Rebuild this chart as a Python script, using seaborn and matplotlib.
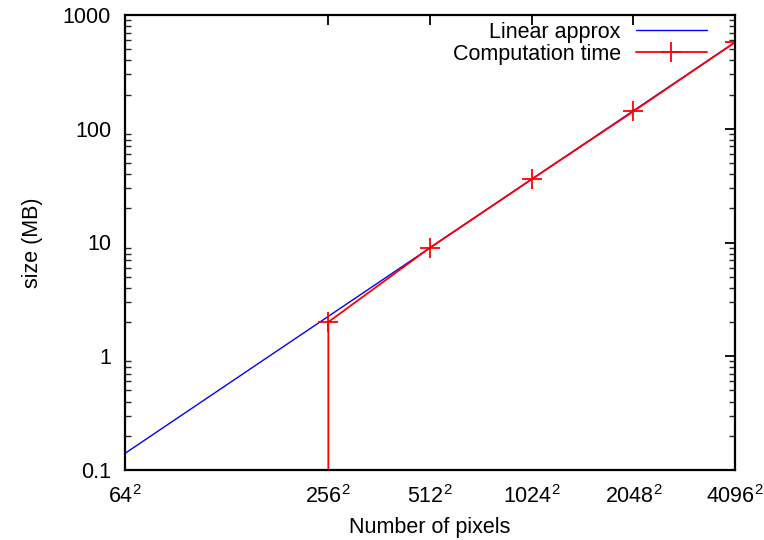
import numpy as np
import pandas as pd
import matplotlib
matplotlib.use("Agg")
import matplotlib.pyplot as plt
import seaborn as sns
from matplotlib.ticker import FixedLocator, FixedFormatter, LogLocator, NullFormatter

sns.set_theme(style="white")
plt.rcParams['font.family'] = ['Liberation Sans', 'DejaVu Sans']
plt.rcParams['mathtext.fontset'] = 'custom'
plt.rcParams['mathtext.rm'] = 'Liberation Sans'
plt.rcParams['mathtext.it'] = 'Liberation Sans'
plt.rcParams['mathtext.default'] = 'regular'
plt.rcParams['text.color'] = 'black'

# Data
approx_pixels = [64**2, 4096**2]
approx_size = [0.14, 576.0]
comp_pixels = [256**2, 256**2, 512**2, 1024**2, 2048**2, 4096**2]
comp_size = [0.0, 2.0, 9.0, 36.0, 142.0, 575.0]
tick_sides = [64, 256, 512, 1024, 2048, 4096]
tick_labels = [f"${s}^2$" for s in tick_sides]
ytick_vals = [0.1, 1, 10, 100, 1000]
ytick_labels = ["0.1", "1", "10", "100", "1000"]

df_a = pd.DataFrame({"x": approx_pixels, "y": approx_size})
df_c = pd.DataFrame({"x": comp_pixels, "y": comp_size})

FS = 15.5

fig = plt.figure(figsize=(7.64, 5.40), dpi=100)
ax = fig.add_axes([125/764, 70/540, 610/764, 455/540])

sns.lineplot(data=df_a, x="x", y="y", ax=ax, color="#0000ff", lw=1.0,
             estimator=None, sort=False, label="Linear approx")
sns.lineplot(data=df_c, x="x", y="y", ax=ax, color="#ff0000", lw=1.3,
             estimator=None, sort=False, marker="+", markersize=14,
             markeredgewidth=1.3, markeredgecolor="#ff0000",
             label="Computation time")

ax.set_xscale("log")
ax.set_yscale("log")
ax.set_xlim(64**2, 4096**2)
ax.set_ylim(0.1, 1000)

tick_pos = [s**2 for s in tick_sides]
ax.xaxis.set_major_locator(FixedLocator(tick_pos))
ax.xaxis.set_major_formatter(FixedFormatter(tick_labels))
ax.xaxis.set_minor_locator(FixedLocator([]))
ax.yaxis.set_major_locator(FixedLocator(ytick_vals))
ax.yaxis.set_major_formatter(FixedFormatter(ytick_labels))
ax.yaxis.set_minor_locator(LogLocator(base=10, subs=np.arange(2, 10)))
ax.yaxis.set_minor_formatter(NullFormatter())

ax.tick_params(which="major", direction="in", length=7, width=1.3,
               top=True, right=True, labelsize=FS, colors="black", pad=10)
ax.tick_params(which="minor", direction="in", length=4, width=1.0,
               top=False, right=True, left=True)
ax.tick_params(axis="x", which="major", pad=11)

for sp in ax.spines.values():
    sp.set_linewidth(1.6)
    sp.set_color("black")

ax.set_xlabel("Number of pixels", fontsize=FS, labelpad=6, color="black")
ax.set_ylabel("size (MB)", fontsize=FS, labelpad=14, color="black")

leg = ax.legend(loc="upper right", frameon=False, markerfirst=False,
                fontsize=FS, handlelength=3.3, labelspacing=0.05,
                borderaxespad=0.0, borderpad=0.0,
                bbox_to_anchor=(0.954, 0.985),
                handletextpad=0.7)
for t in leg.get_texts():
    t.set_color("black")

fig.savefig("out.png", dpi=100)
